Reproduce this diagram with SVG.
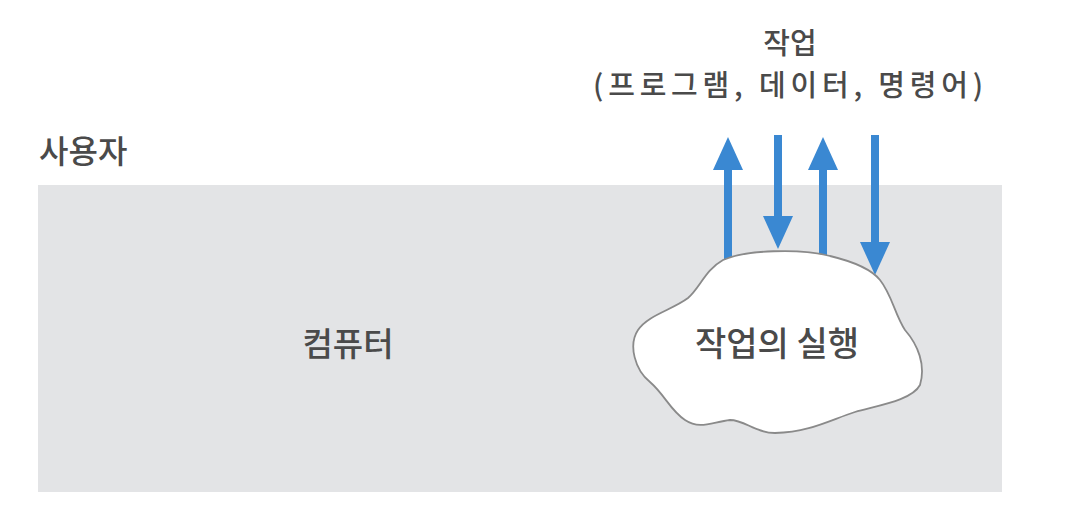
<svg xmlns="http://www.w3.org/2000/svg" width="1082" height="528" viewBox="0 0 1082 528">
<style>
.t{font-family:"Noto Sans CJK KR","Noto Sans",sans-serif;fill:#4a4a4a;font-size:32px;font-weight:500}
.a{stroke:#3a88d2;stroke-width:8;fill:none}
</style>
<defs>
<marker id="ah" markerUnits="userSpaceOnUse" markerWidth="34" markerHeight="30" refX="0" refY="15" orient="auto" viewBox="0 0 34 30">
<path d="M0,0 L33,15 L0,30 z" fill="#3a88d2"/>
</marker>
</defs>
<rect width="1082" height="528" fill="#ffffff"/>
<g id="user">
<text class="t" x="39" y="163">사용자</text>
</g>
<g id="computer">
<rect x="38" y="185" width="964" height="307" fill="#e3e4e6"/>
<text class="t" x="348" y="356" text-anchor="middle" style="font-size:33px">컴퓨터</text>
</g>
<g id="job">
<text class="t" x="790" y="54" text-anchor="middle" style="font-size:29px">작업</text>
<text class="t" x="788" y="96" text-anchor="middle" style="font-size:29px" textLength="390" lengthAdjust="spacing">(프로그램, 데이터, 명령어)</text>
</g>
<g id="connectors">
<line class="a" x1="728" y1="265" x2="728" y2="170" marker-end="url(#ah)"/>
<line class="a" x1="778" y1="135" x2="778" y2="216" marker-end="url(#ah)"/>
<line class="a" x1="823" y1="258" x2="823" y2="170" marker-end="url(#ah)"/>
<line class="a" x1="875" y1="135" x2="875" y2="242" marker-end="url(#ah)"/>
</g>
<g id="execution">
<path d="M 723 260 C 745 250, 800 248, 830 256 C 855 262, 872 270, 880 280 C 892 295, 895 315, 905 330 C 918 345, 926 365, 920 385 C 912 400, 880 405, 855 412 C 830 420, 810 432, 775 433 C 755 433, 745 420, 730 420 C 712 422, 700 430, 685 420 C 670 410, 665 395, 650 382 C 635 370, 628 345, 638 330 C 648 315, 672 310, 688 298 C 700 288, 705 270, 723 260 Z" fill="#ffffff" stroke="#8a8a8a" stroke-width="1.8"/>
<text class="t" x="777" y="356" text-anchor="middle" style="font-size:34px">작업의 실행</text>
</g>
</svg>
